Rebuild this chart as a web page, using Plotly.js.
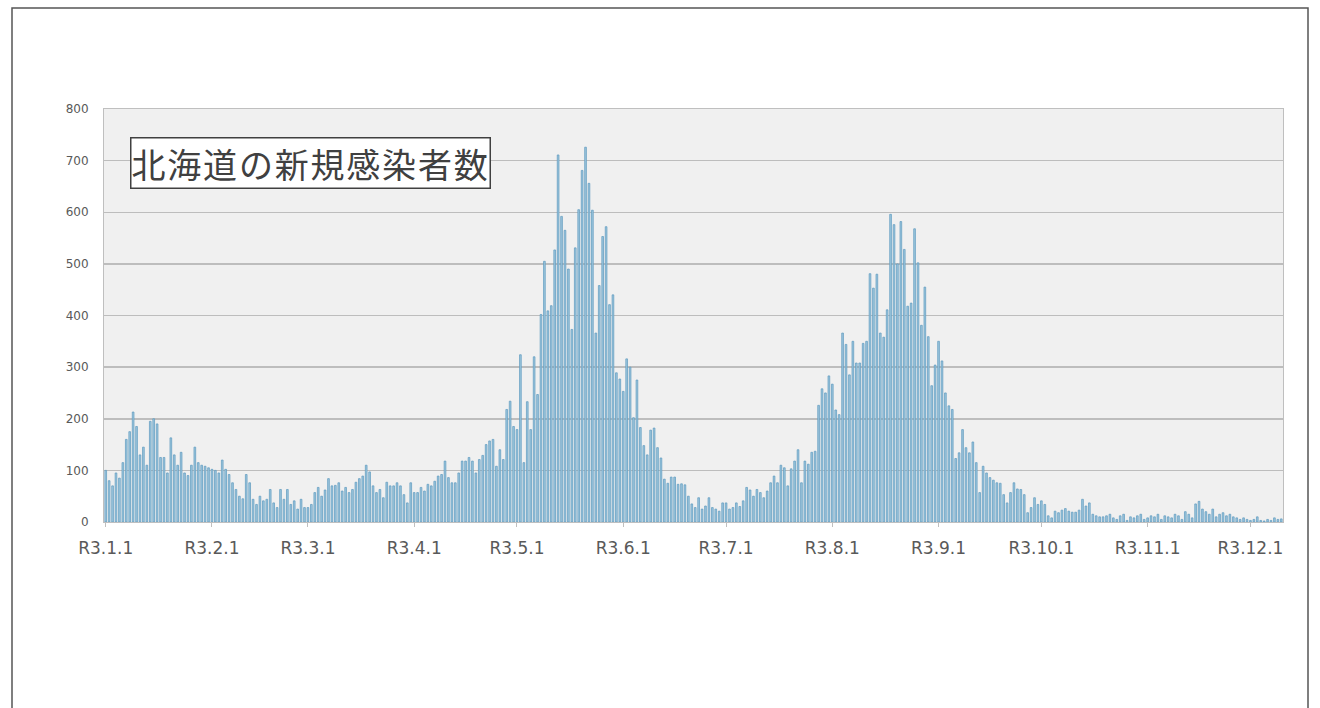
<!DOCTYPE html>
<html>
<head>
<meta charset="utf-8">
<script src="https://cdn.plot.ly/plotly-3.0.1.min.js"></script>
<style>
  html, body { margin: 0; padding: 0; background: #ffffff; }
  #chart { width: 1320px; height: 708px; }
</style>
</head>
<body>
<div id="chart"></div>
<script>
// Daily new cases in Hokkaido, Reiwa 3 (2021), by month
const jan = [100, 80, 70, 95, 85, 115, 160, 175, 213, 185, 130, 145, 110, 195, 200, 190, 125, 125, 95, 163, 130, 110, 135, 95, 90, 110, 145, 115, 110, 108, 105];
const feb = [102, 100, 95, 120, 102, 92, 76, 63, 50, 45, 92, 76, 44, 34, 50, 41, 44, 63, 37, 28, 63, 44, 63, 34, 41, 25, 44, 28];
const mar = [28, 34, 57, 67, 50, 62, 84, 70, 71, 76, 60, 67, 57, 63, 77, 84, 89, 110, 97, 70, 57, 63, 47, 77, 70, 70, 76, 70, 53, 37, 76];
const apr = [57, 57, 67, 60, 73, 70, 79, 89, 92, 118, 86, 76, 76, 95, 118, 118, 125, 118, 95, 121, 129, 150, 157, 160, 108, 140, 121, 218, 234, 185];
const may = [179, 324, 115, 233, 179, 320, 247, 402, 505, 409, 419, 527, 711, 592, 565, 490, 373, 531, 605, 681, 726, 656, 604, 366, 458, 553, 572, 421, 440, 289, 277];
const jun = [253, 316, 300, 202, 275, 183, 148, 130, 178, 182, 144, 124, 83, 75, 87, 87, 73, 74, 72, 50, 35, 28, 47, 25, 31, 47, 28, 25, 21, 37];
const jul = [37, 25, 28, 37, 30, 41, 67, 62, 50, 63, 57, 47, 60, 76, 89, 76, 110, 105, 70, 103, 118, 140, 76, 118, 112, 135, 137, 226, 258, 250, 283];
const aug = [267, 217, 208, 366, 344, 285, 350, 308, 308, 346, 350, 481, 453, 480, 366, 358, 411, 596, 576, 500, 582, 528, 418, 424, 568, 502, 381, 455, 359, 264, 304];
const sep = [350, 312, 250, 225, 218, 123, 134, 179, 144, 134, 155, 115, 57, 108, 95, 86, 81, 76, 75, 53, 37, 57, 76, 64, 63, 53, 18, 28, 47, 34];
const oct = [41, 34, 12, 8, 21, 18, 23, 26, 21, 19, 19, 23, 44, 31, 37, 15, 12, 10, 10, 12, 15, 8, 5, 12, 15, 3, 10, 8, 12, 15, 5];
const nov = [8, 12, 10, 15, 5, 12, 10, 8, 15, 12, 5, 20, 15, 8, 35, 40, 25, 20, 15, 25, 10, 15, 18, 12, 15, 10, 8, 5, 8, 5];
const dec = [3, 5, 10, 3, 2, 5, 3, 8, 5, 6];

const months = [jan, feb, mar, apr, may, jun, jul, aug, sep, oct, nov, dec];
const tickDates = ['2021-01-01','2021-02-01','2021-03-01','2021-04-01','2021-05-01','2021-06-01',
                   '2021-07-01','2021-08-01','2021-09-01','2021-10-01','2021-11-01','2021-12-01'];
const tickLabels = ['R3.1.1','R3.2.1','R3.3.1','R3.4.1','R3.5.1','R3.6.1',
                    'R3.7.1','R3.8.1','R3.9.1','R3.10.1','R3.11.1','R3.12.1'];
const titleText = '北海道の新規感染者数';

// build date/value arrays
const xs = [], ys = [];
months.forEach((arr, m) => {
  arr.forEach((v, d) => {
    const mm = String(m + 1).padStart(2, '0');
    const dd = String(d + 1).padStart(2, '0');
    xs.push('2021-' + mm + '-' + dd);
    ys.push(v);
  });
});

const trace = {
  type: 'bar',
  x: xs,
  y: ys,
  marker: { color: '#9cc6dd', line: { color: '#5d9abf', width: 0.7 } },
  hoverinfo: 'x+y'
};

const frameLeft = -92 / 1179, frameRight = 1204 / 1179;

const layout = {
  width: 1320,
  height: 708,
  margin: { l: 104, r: 37, t: 109, b: 186 },
  paper_bgcolor: '#ffffff',
  plot_bgcolor: '#f0f0f0',
  showlegend: false,
  bargap: 0.5,
  font: { family: 'DejaVu Sans, Liberation Sans, sans-serif', color: '#595959' },
  xaxis: {
    type: 'date',
    range: ['2020-12-31 12:00', '2021-12-10 12:00'],
    tickmode: 'array',
    tickvals: tickDates,
    ticktext: tickLabels,
    ticks: 'outside',
    ticklen: 4,
    tickcolor: '#bfbfbf',
    tickfont: { family: 'DejaVu Sans', size: 17, color: '#595959' },
    ticklabelstandoff: 7,
    showgrid: false,
    showline: true,
    linecolor: '#bfbfbf',
    linewidth: 1,
    mirror: true,
    zeroline: false,
    fixedrange: true
  },
  yaxis: {
    range: [0, 800],
    tickmode: 'linear',
    tick0: 0,
    dtick: 100,
    ticks: 'outside',
    ticklen: 6,
    tickcolor: 'rgba(0,0,0,0)',
    tickfont: { family: 'DejaVu Sans', size: 12, color: '#595959' },
    ticklabelstandoff: 6,
    showgrid: true,
    gridcolor: '#bdbdbd',
    gridwidth: 1.5,
    showline: true,
    linecolor: '#bfbfbf',
    linewidth: 1,
    mirror: true,
    zeroline: false,
    fixedrange: true
  },
  annotations: [{
    xref: 'paper', yref: 'paper',
    x: 26 / 1179, y: 359 / 413,
    xanchor: 'left', yanchor: 'middle',
    text: '<span style="letter-spacing:1.8px">' + titleText + '</span>',
    showarrow: false,
    font: { family: 'Noto Sans CJK JP', size: 34, color: '#404040' },
    bgcolor: '#ffffff',
    bordercolor: '#404040',
    borderwidth: 1.5,
    borderpad: 0
  }],
  shapes: [{
    type: 'rect', xref: 'paper', yref: 'paper',
    x0: frameLeft, x1: frameRight, y0: -0.46, y1: 514 / 413,
    line: { color: '#555555', width: 1.5 },
    fillcolor: 'rgba(0,0,0,0)',
    layer: 'below'
  }]
};

Plotly.newPlot('chart', [trace], layout, { displayModeBar: false, staticPlot: true });
</script>
</body>
</html>
